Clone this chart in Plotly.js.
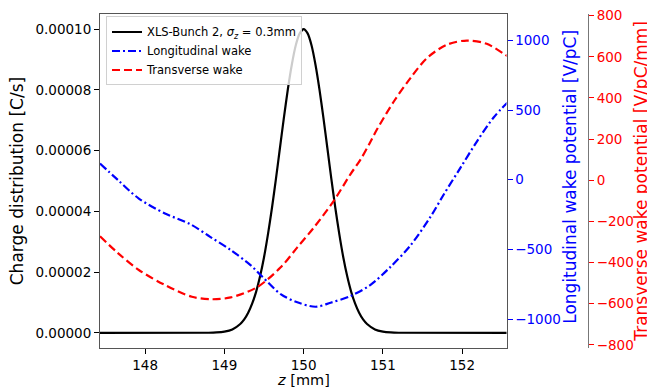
<!DOCTYPE html>
<html>
<head>
<meta charset="utf-8">
<script src="https://cdn.plot.ly/plotly-3.0.1.min.js"></script>
<style>html,body{margin:0;padding:0;background:#fff;}#chart{width:647px;height:388px;}</style>
</head>
<body>
<div id="chart"></div>
<script>
// Charge distribution (black), z in mm, value in C/s
const zCharge = [147.4, 148.8, 148.9, 149.0, 149.1, 149.2, 149.25, 149.3, 149.35, 149.4, 149.45, 149.5, 149.55, 149.6, 149.65, 149.7, 149.75, 149.8, 149.85, 149.9, 149.95, 150.0,
  150.05, 150.1, 150.15, 150.2, 150.25, 150.3, 150.35, 150.4, 150.45, 150.5, 150.55, 150.6, 150.65, 150.7, 150.75, 150.8, 150.9, 151.0, 151.1, 151.2, 152.6];
const charge = [0, 3e-8, 1.2e-7, 3.9e-7, 1.1e-6, 2.9e-6, 4.4e-6, 6.6e-6, 9.6e-6, 1.35e-5, 1.86e-5, 2.49e-5, 3.25e-5, 4.11e-5, 5.06e-5, 6.07e-5, 7.07e-5, 8.01e-5, 8.82e-5, 9.46e-5, 9.86e-5, 1.0e-4,
  9.86e-5, 9.46e-5, 8.82e-5, 8.01e-5, 7.07e-5, 6.07e-5, 5.06e-5, 4.11e-5, 3.25e-5, 2.49e-5, 1.86e-5, 1.35e-5, 9.6e-6, 6.6e-6, 4.4e-6, 2.9e-6, 1.1e-6, 3.9e-7, 1.2e-7, 3e-8, 0];

// Longitudinal wake potential (blue), V/pC
const zLong = [147.43, 147.66, 147.92, 148.25, 148.57, 148.82, 149.08, 149.33, 149.48, 149.71, 149.92, 150.15, 150.34, 150.59, 150.84, 151.09, 151.35, 151.60, 151.77, 151.98, 152.19, 152.40, 152.57];
const longWake = [116, -4, -135, -242, -319, -410, -505, -613, -697, -821, -880, -912, -883, -835, -756, -629, -470, -267, -104, 87, 278, 449, 553];

// Transverse wake potential (red), V/pC/mm
const zTrans = [147.43, 147.66, 147.92, 148.25, 148.59, 148.84, 149.08, 149.41, 149.71, 149.92, 150.13, 150.38, 150.59, 150.72, 150.84, 150.93, 151.14, 151.35, 151.56, 151.81, 152.06, 152.31, 152.54, 152.57];
const transWake = [-272, -355, -436, -509, -566, -578, -569, -520, -423, -326, -229, -100, 29, 102, 185, 250, 384, 498, 595, 659, 679, 663, 611, 603];

const leftTicks = [0, 2e-5, 4e-5, 6e-5, 8e-5, 1e-4];
const leftTickText = ["0.00000", "0.00002", "0.00004", "0.00006", "0.00008", "0.00010"];

const FONT = "DejaVu Sans, sans-serif";
const BLUE = "#0000ff", RED = "#ff0000";

const traces = [
  {x: zCharge, y: charge, type: "scatter", mode: "lines", name: "XLS-Bunch 2, <i>σ<sub>z</sub></i> = 0.3mm",
   line: {color: "#000000", width: 2.2, shape: "spline", smoothing: 0.6}, yaxis: "y"},
  {x: zLong, y: longWake, type: "scatter", mode: "lines", name: "Longitudinal wake",
   line: {color: BLUE, width: 2.2, dash: "8px,3px,2px,3px", shape: "spline", smoothing: 0.9}, yaxis: "y2"},
  {x: zTrans, y: transWake, type: "scatter", mode: "lines", name: "Transverse wake",
   line: {color: RED, width: 2.2, dash: "8px,4px", shape: "spline", smoothing: 0.9}, yaxis: "y3"}
];

const W = 647, H = 388, ML = 100, MR = 5, MT = 13.5, MB = 40;
const PW = W - ML - MR, PH = H - MT - MB;
const px = v => (v - ML) / PW;
const py = v => 1 - (v - MT) / PH;

const layout = {
  width: W, height: H,
  margin: {l: ML, r: MR, t: MT, b: MB, pad: 0},
  paper_bgcolor: "#fff", plot_bgcolor: "#fff",
  font: {family: FONT, size: 13, color: "#000"},
  showlegend: true,
  legend: {x: px(106), y: py(16), xanchor: "left", yanchor: "top",
           bgcolor: "rgba(255,255,255,0.8)", bordercolor: "#d0d0d0", borderwidth: 1,
           font: {family: FONT, size: 11.5, color: "#000"}, itemwidth: 30, tracegroupgap: 0},
  xaxis: {domain: [0, px(506.5)], range: [147.43, 152.56], tick0: 148, dtick: 1,
          showgrid: false, zeroline: false, showline: true, mirror: true, linecolor: "#555", linewidth: 1,
          ticks: "outside", ticklen: 5, tickcolor: "#000", tickfont: {family: FONT, size: 13.5, color: "#000"}},
  yaxis: {range: [-5e-6, 1.05e-4], tickvals: leftTicks, ticktext: leftTickText,
          showgrid: false, zeroline: false, showline: true, mirror: true, linecolor: "#555", linewidth: 1,
          ticks: "outside", ticklen: 5, tickcolor: "#000", tickfont: {family: FONT, size: 13.5, color: "#000"}},
  yaxis2: {overlaying: "y", side: "right", anchor: "x", range: [-1208, 1190], tick0: 0, dtick: 500,
           showgrid: false, zeroline: false, showline: false,
           ticks: "outside", ticklen: 5, tickcolor: BLUE, tickfont: {family: FONT, size: 13.5, color: BLUE}},
  yaxis3: {overlaying: "y", side: "right", anchor: "free", position: px(588), range: [-815, 808], tick0: 0, dtick: 200,
           showgrid: false, zeroline: false, showline: true, linecolor: "#777", linewidth: 1,
           ticks: "outside", ticklen: 5, tickcolor: RED, tickfont: {family: FONT, size: 13.5, color: RED}},
  annotations: [
    {text: "Charge distribution [C/s]", xref: "paper", yref: "paper", x: px(17), y: py(181), textangle: -90,
     showarrow: false, xanchor: "center", yanchor: "middle", font: {family: FONT, size: 17, color: "#000"}},
    {text: "Longitudinal wake potential [V/pC]", xref: "paper", yref: "paper", x: px(570), y: py(176.5), textangle: -90,
     showarrow: false, xanchor: "center", yanchor: "middle", font: {family: FONT, size: 17, color: BLUE}},
    {text: "Transverse wake potential [V/pC/mm]", xref: "paper", yref: "paper", x: px(641), y: py(181.5), textangle: -90,
     showarrow: false, xanchor: "center", yanchor: "middle", font: {family: FONT, size: 17, color: RED}},
    {text: "<i>z</i> [mm]", xref: "paper", yref: "paper", x: px(303), y: py(380), 
     showarrow: false, xanchor: "center", yanchor: "middle", font: {family: FONT, size: 14.5, color: "#000"}}
  ]
};

Plotly.newPlot("chart", traces, layout, {displayModeBar: false, staticPlot: true});
</script>
</body>
</html>
